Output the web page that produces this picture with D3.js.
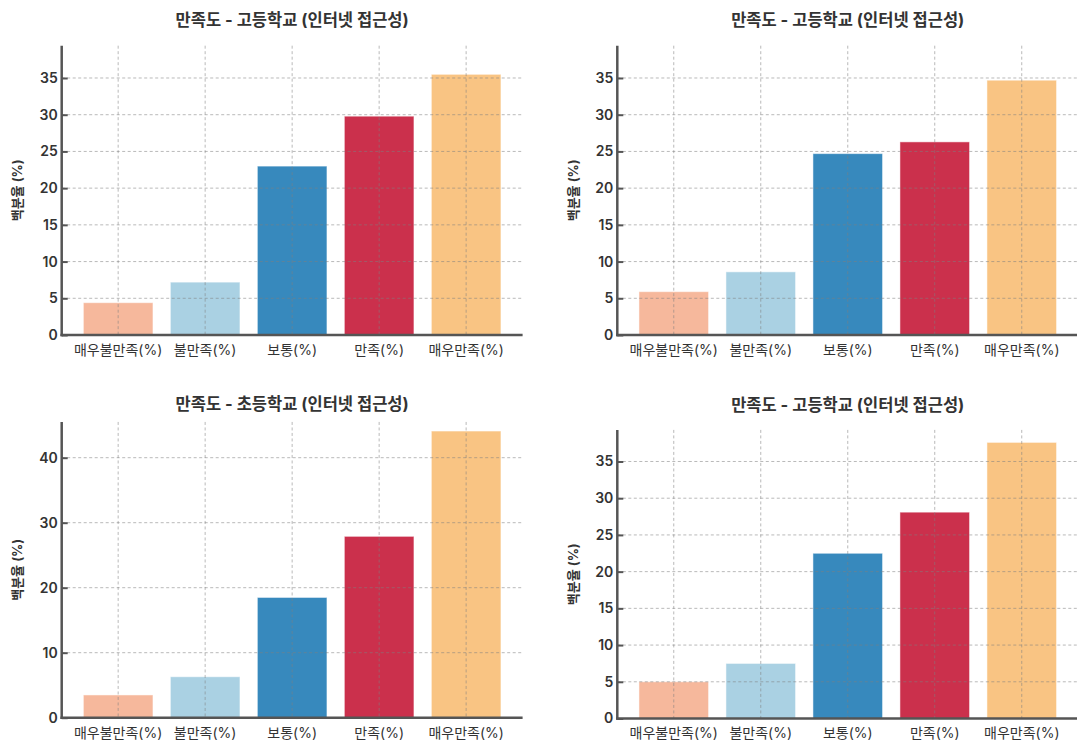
<!DOCTYPE html>
<html>
<head>
<meta charset="utf-8">
<script src="https://cdn.jsdelivr.net/npm/d3@7"></script>
<style>
  html, body { margin: 0; padding: 0; background: #fff; }
  svg { display: block; font-family: "Inter", "Noto Sans CJK KR", sans-serif; }
</style>
</head>
<body>
<svg id="chart" width="1077" height="744"></svg>
<script>
// ---- data ----
const categories = ["매우불만족(%)", "불만족(%)", "보통(%)", "만족(%)", "매우만족(%)"];
const titles = [
  "만족도 - 고등학교 (인터넷 접근성)",
  "만족도 - 고등학교 (인터넷 접근성)",
  "만족도 - 초등학교 (인터넷 접근성)",
  "만족도 - 고등학교 (인터넷 접근성)"
];
const valuesP1 = [4.4, 7.2, 23.0, 29.8, 35.5];
const valuesP2 = [5.9, 8.6, 24.7, 26.3, 34.7];
const valuesP3 = [3.5, 6.3, 18.5, 27.9, 44.1];
const valuesP4 = [5.0, 7.5, 22.5, 28.1, 37.6];
const yTicksFive = [0, 5, 10, 15, 20, 25, 30, 35];
const yTicksTen = [0, 10, 20, 30, 40];
const yMaxes = [39.4, 39.4, 45.5, 39.3];
const yLabel = "백분율 (%)";
const barColors = ["#F6B89C", "#AAD1E3", "#3789BD", "#CB304C", "#F9C483"];

// ---- layout ----
const panels = [
  { values: valuesP1, ticks: yTicksFive, ymax: yMaxes[0], title: titles[0], left: 61.7, right: 522.6, zero: 335.0, titleY: 20 },
  { values: valuesP2, ticks: yTicksFive, ymax: yMaxes[1], title: titles[1], left: 617.3, right: 1078.2, zero: 335.0, titleY: 20 },
  { values: valuesP3, ticks: yTicksTen,  ymax: yMaxes[2], title: titles[2], left: 61.7, right: 522.6, zero: 717.7, titleY: 404 },
  { values: valuesP4, ticks: yTicksFive, ymax: yMaxes[3], title: titles[3], left: 617.3, right: 1078.2, zero: 718.5, titleY: 405 }
];
const pxPerUnit = [7.343, 7.343, 6.5, 7.343];

const svg = d3.select("#chart");

panels.forEach((p, i) => {
  const top = p.zero - p.ymax * pxPerUnit[i];
  const x = d3.scaleBand().domain(categories).range([p.left, p.right])
    .paddingInner(0.2).paddingOuter(0.249);
  const y = d3.scaleLinear().domain([0, p.ymax]).range([p.zero, top]);
  const g = svg.append("g");

  // bars
  g.selectAll("rect.bar").data(p.values).enter().append("rect")
    .attr("class", "bar")
    .attr("x", (d, j) => x(categories[j]))
    .attr("width", x.bandwidth())
    .attr("y", d => y(d))
    .attr("height", d => y(0) - y(d))
    .attr("fill", (d, j) => barColors[j])
    .attr("stroke", "#ffffff")
    .attr("stroke-opacity", 0.5)
    .attr("stroke-width", 1);

  // horizontal grid (above bars)
  g.selectAll("line.hgrid").data(p.ticks.filter(t => t > 0)).enter().append("line")
    .attr("x1", p.left).attr("x2", p.right)
    .attr("y1", d => y(d)).attr("y2", d => y(d))
    .attr("stroke", "#7f7f7f").attr("stroke-opacity", 0.55)
    .attr("stroke-width", 1).attr("stroke-dasharray", "3,2.5");

  // vertical grid
  g.selectAll("line.vgrid").data(categories).enter().append("line")
    .attr("x1", d => x(d) + x.bandwidth() / 2).attr("x2", d => x(d) + x.bandwidth() / 2)
    .attr("y1", top).attr("y2", y(0))
    .attr("stroke", "#7f7f7f").attr("stroke-opacity", 0.55)
    .attr("stroke-width", 1).attr("stroke-dasharray", "3,2.5");

  // y axis
  const yAxis = d3.axisLeft(y).tickValues(p.ticks).tickSize(-6).tickPadding(4).tickFormat(d3.format("d"));
  const ya = g.append("g").attr("transform", `translate(${p.left},0)`).call(yAxis);
  ya.select(".domain").remove();
  ya.selectAll(".tick line").attr("stroke", "#555").attr("stroke-width", 2);
  ya.selectAll(".tick text").attr("fill", "#333").attr("font-size", 14).attr("font-weight", 600)
    .style("font-family", "Inter, 'Noto Sans CJK KR', sans-serif");

  // x axis
  const xAxis = d3.axisBottom(x).tickSize(0).tickPadding(10);
  const xa = g.append("g").attr("transform", `translate(0,${y(0)})`).call(xAxis);
  xa.select(".domain").remove();
  xa.selectAll(".tick text").attr("fill", "#333").attr("font-size", 14).attr("font-weight", 400)
    .style("font-family", "Inter, 'Noto Sans CJK KR', sans-serif");

  // spines
  g.append("line").attr("x1", p.left).attr("x2", p.left).attr("y1", top).attr("y2", y(0) + 1.25)
    .attr("stroke", "#555").attr("stroke-width", 2.5);
  g.append("line").attr("x1", p.left - 1.25).attr("x2", p.right).attr("y1", y(0)).attr("y2", y(0))
    .attr("stroke", "#555").attr("stroke-width", 2.5);

  // title
  g.append("text").attr("x", (p.left + p.right) / 2).attr("y", p.titleY)
    .attr("text-anchor", "middle").attr("dominant-baseline", "central")
    .attr("font-size", 16.5).attr("font-weight", 700).attr("fill", "#333")
    .style("font-family", "Inter, 'Noto Sans CJK KR', sans-serif").text(p.title);

  // y label
  g.append("text")
    .attr("transform", `translate(${p.left - 44.5},${(top + y(0)) / 2}) rotate(-90)`)
    .attr("text-anchor", "middle").attr("dominant-baseline", "central")
    .attr("font-size", 13).attr("font-weight", 700).attr("fill", "#333")
    .style("font-family", "Inter, 'Noto Sans CJK KR', sans-serif").text(yLabel);
});
</script>
</body>
</html>
